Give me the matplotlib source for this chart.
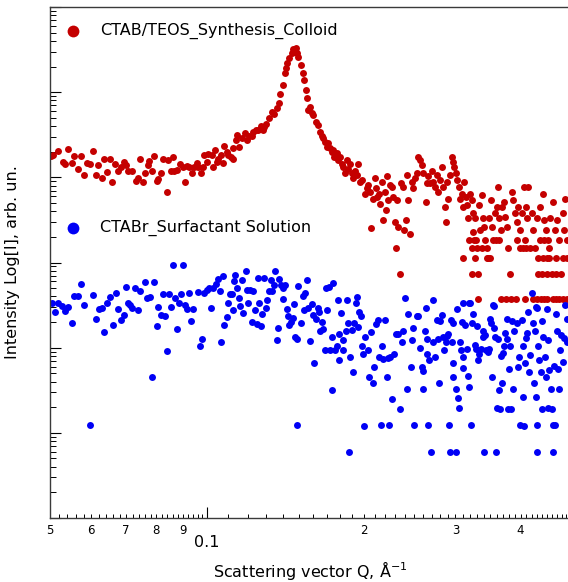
import matplotlib
matplotlib.use('Agg')
import numpy as np
import matplotlib.pyplot as plt
from matplotlib.ticker import FixedLocator, FuncFormatter, LogLocator, NullFormatter

# colloid SAXS curve: Q in 1/A, intensity as log10(I), arbitrary units
red_q = [
    0.0502, 0.0506, 0.0517, 0.0529, 0.0534, 0.0542, 0.0550, 0.0557, 0.0565, 0.0574,
    0.0581, 0.0590, 0.0597, 0.0604, 0.0613, 0.0619, 0.0629, 0.0635, 0.0644, 0.0652,
    0.0659, 0.0667, 0.0676, 0.0684, 0.0694, 0.0700, 0.0707, 0.0718, 0.0731, 0.0739,
    0.0744, 0.0753, 0.0761, 0.0770, 0.0776, 0.0784, 0.0792, 0.0802, 0.0807, 0.0816,
    0.0825, 0.0838, 0.0844, 0.0853, 0.0863, 0.0865, 0.0878, 0.0888, 0.0899, 0.0908,
    0.0915, 0.0926, 0.0935, 0.0945, 0.0956, 0.0963, 0.0973, 0.0982, 0.0988, 0.1000,
    0.1007,
    0.1022, 0.1027, 0.1037, 0.1045, 0.1052, 0.1063, 0.1073, 0.1079, 0.1092, 0.1100,
    0.1111, 0.1121, 0.1124, 0.1138, 0.1144, 0.1154, 0.1167, 0.1184, 0.1193, 0.1207,
    0.1220, 0.1228, 0.1243, 0.1256, 0.1269, 0.1280, 0.1288, 0.1299, 0.1318, 0.1332,
    0.1346, 0.1362, 0.1378, 0.1382, 0.1399, 0.1413, 0.1419, 0.1427, 0.1440, 0.1455,
    0.1466, 0.1481, 0.1492, 0.1498,
    0.1514, 0.1528, 0.1537, 0.1551, 0.1559, 0.1566, 0.1578, 0.1590, 0.1601, 0.1621,
    0.1637, 0.1649, 0.1662, 0.1674, 0.1686, 0.1699, 0.1711, 0.1724, 0.1737, 0.1749,
    0.1755, 0.1776, 0.1788, 0.1801, 0.1815, 0.1828, 0.1842, 0.1856, 0.1869, 0.1883,
    0.1897, 0.1906, 0.1925, 0.1945, 0.1953, 0.1968, 0.1983, 0.2012, 0.2027, 0.2042,
    0.2057, 0.2063, 0.2082, 0.2103, 0.2113, 0.2125, 0.2143, 0.2150, 0.2166, 0.2182,
    0.2198, 0.2208, 0.2221, 0.2230, 0.2247, 0.2264, 0.2280, 0.2298, 0.2308, 0.2315,
    0.2331, 0.2349, 0.2356, 0.2377, 0.2391, 0.2412, 0.2420, 0.2437, 0.2455, 0.2474,
    0.2491, 0.2510, 0.2529, 0.2547, 0.2566, 0.2585, 0.2604, 0.2635, 0.2643, 0.2662,
    0.2681, 0.2702, 0.2721, 0.2742, 0.2763, 0.2782, 0.2803, 0.2824, 0.2844, 0.2866,
    0.2879, 0.2895, 0.2908, 0.2929, 0.2952, 0.2965, 0.2982, 0.3009, 0.3026, 0.3052,
    0.3062, 0.3085, 0.3107, 0.3117, 0.3145, 0.3163, 0.3177, 0.3200, 0.3225, 0.3239,
    0.3248, 0.3272, 0.3287, 0.3306, 0.3335, 0.3345, 0.3370, 0.3385, 0.3405, 0.3420,
    0.3446, 0.3470, 0.3485, 0.3507, 0.3523, 0.3548, 0.3575, 0.3602, 0.3627, 0.3643,
    0.3665, 0.3682, 0.3720, 0.3736, 0.3764, 0.3791, 0.3819, 0.3848, 0.3876, 0.3905,
    0.3934, 0.3962, 0.3991, 0.4022, 0.4040, 0.4064, 0.4100, 0.4123, 0.4141, 0.4172,
    0.4204, 0.4234, 0.4266, 0.4298, 0.4328, 0.4360, 0.4394, 0.4414, 0.4439, 0.4479,
    0.4492, 0.4524, 0.4557, 0.4592, 0.4625, 0.4660, 0.4681, 0.4708, 0.4749, 0.4778,
    0.4821, 0.4849, 0.4871, 0.4907, 0.4920,
    # low-count tail (1..5 counts)
    0.3320, 0.3665, 0.3753, 0.3831, 0.3922, 0.4082, 0.4234, 0.4309, 0.4374, 0.4439,
    0.4504, 0.4625, 0.4681, 0.4737, 0.4821, 0.4907,
    0.3225, 0.3311, 0.4328, 0.4492, 0.4675,
    0.3107, 0.3272, 0.3446, 0.3496, 0.4419, 0.4538, 0.4828,
    0.3225, 0.3369, 0.3985, 0.4102, 0.4540,
    0.3190, 0.3259, 0.3590, 0.3641, 0.3934, 0.4082, 0.4353, 0.4435,
]
red_logi = [
    4.25, 4.26, 4.31, 4.18, 4.16, 4.33, 4.17, 4.25, 4.10, 4.25,
    4.03, 4.17, 4.16, 4.31, 4.03, 4.14, 3.99, 4.21, 4.06, 4.22,
    3.95, 4.16, 4.08, 4.12, 4.18, 4.14, 4.08, 4.08, 3.96, 3.99,
    4.22, 3.95, 4.05, 4.15, 4.19, 4.08, 4.25, 3.96, 3.98, 4.05,
    4.21, 3.83, 4.20, 4.08, 4.24, 4.08, 4.09, 4.16, 4.12, 3.95,
    4.13, 4.12, 4.05, 4.12, 4.17, 4.12, 4.05, 4.12, 4.26, 4.18,
    4.27,
    4.26, 4.12, 4.32, 4.18, 4.22, 4.26, 4.17, 4.37, 4.30, 4.26,
    4.24, 4.21, 4.34, 4.44, 4.50, 4.36, 4.46, 4.52, 4.44, 4.48,
    4.48, 4.53, 4.56, 4.56, 4.60, 4.55, 4.59, 4.63, 4.70, 4.77,
    4.74, 4.81, 4.87, 4.98, 5.08, 5.22, 5.28, 5.34, 5.40, 5.46,
    5.51, 5.52, 5.46, 5.41,
    5.32, 5.22, 5.14, 5.02, 4.93, 4.79, 4.83, 4.75, 4.73, 4.65,
    4.61, 4.53, 4.48, 4.46, 4.42, 4.36, 4.40, 4.34, 4.30, 4.32,
    4.24, 4.28, 4.20, 4.24, 4.16, 4.12, 4.05, 4.20, 4.10, 4.16,
    4.05, 3.99, 4.08, 4.03, 4.16, 3.94, 3.97, 3.81, 3.87, 3.91,
    3.83, 3.41, 3.75, 3.99, 3.87, 3.77, 3.81, 3.69, 3.95, 3.50,
    3.83, 3.62, 4.01, 3.73, 3.91, 3.89, 3.77, 3.48, 3.17, 3.73,
    3.42, 2.87, 3.93, 3.89, 3.38, 3.50, 4.03, 3.73, 3.34, 3.95,
    3.87, 3.99, 4.05, 4.24, 4.20, 4.14, 4.05, 3.71, 3.93, 4.01,
    3.93, 4.08, 3.95, 3.89, 4.03, 3.83, 3.97, 4.12, 3.89, 3.65,
    3.48, 3.95, 3.75, 4.03, 4.24, 4.18, 4.12, 4.05, 3.97, 3.89,
    3.75, 3.81, 3.65, 3.95, 3.77, 3.67, 3.52, 3.81, 3.73, 3.58,
    3.36, 3.52, 3.26, 3.17, 3.67, 3.38, 3.79, 3.52, 3.42, 3.26,
    3.17, 3.05, 3.52, 3.73, 3.42, 3.26, 3.58, 3.65, 3.89, 3.52,
    3.38, 3.65, 3.71, 3.54, 3.42, 3.17, 2.87, 3.83, 3.73, 3.58,
    3.48, 3.65, 3.38, 3.58, 3.17, 3.89, 3.65, 3.52, 3.89, 3.17,
    3.58, 3.38, 3.17, 3.52, 3.05, 3.65, 2.87, 3.81, 3.50, 3.38,
    3.05, 3.26, 3.52, 2.87, 3.71, 3.38, 3.05, 3.50, 3.26, 2.87,
    3.58, 3.38, 3.75, 3.26, 3.05,
    2.57, 2.57, 2.57, 2.57, 2.57, 2.57, 2.57, 2.57, 2.57, 2.57,
    2.57, 2.57, 2.57, 2.57, 2.57, 2.57,
    2.87, 2.87, 2.87, 2.87, 2.87,
    3.05, 3.05, 3.05, 3.05, 3.05, 3.05, 3.05,
    3.17, 3.17, 3.17, 3.17, 3.17,
    3.26, 3.26, 3.26, 3.26, 3.26, 3.26, 3.26, 3.26,
]

# surfactant solution curve
blue_q = [
    0.0504, 0.0511, 0.0519, 0.0527, 0.0534, 0.0542, 0.0550, 0.0557, 0.0565, 0.0574,
    0.0581, 0.0597, 0.0604, 0.0613, 0.0622, 0.0629, 0.0636, 0.0644, 0.0652, 0.0660,
    0.0668, 0.0675, 0.0684, 0.0692, 0.0700, 0.0705, 0.0712, 0.0718, 0.0728, 0.0739,
    0.0744, 0.0761, 0.0769, 0.0778, 0.0784, 0.0792, 0.0802, 0.0807, 0.0816, 0.0825,
    0.0831, 0.0838, 0.0847, 0.0854, 0.0863, 0.0869, 0.0878, 0.0886, 0.0892, 0.0901,
    0.0908, 0.0915, 0.0926, 0.0931, 0.0942, 0.0963, 0.0970, 0.0979, 0.0988, 0.1000,
    0.1011, 0.1019, 0.1029, 0.1042, 0.1049, 0.1060, 0.1065, 0.1073, 0.1081, 0.1092,
    0.1097, 0.1108, 0.1116, 0.1121, 0.1128, 0.1134, 0.1144, 0.1151, 0.1158, 0.1167,
    0.1175, 0.1188, 0.1193, 0.1198, 0.1210, 0.1220, 0.1228, 0.1238, 0.1247, 0.1252,
    0.1261, 0.1269, 0.1278, 0.1290, 0.1299, 0.1307, 0.1316, 0.1326, 0.1336, 0.1346,
    0.1352, 0.1362, 0.1370, 0.1378, 0.1386, 0.1399, 0.1402, 0.1413, 0.1424, 0.1434,
    0.1440, 0.1449, 0.1462, 0.1470, 0.1477, 0.1488, 0.1498, 0.1488,
    0.1516, 0.1528, 0.1537, 0.1544, 0.1555, 0.1566, 0.1578, 0.1590, 0.1601, 0.1608,
    0.1621, 0.1633, 0.1644, 0.1649, 0.1662, 0.1674, 0.1686, 0.1694, 0.1703, 0.1716,
    0.1724, 0.1737, 0.1741, 0.1749, 0.1762, 0.1776, 0.1784, 0.1796, 0.1796, 0.1810,
    0.1823, 0.1828, 0.1848, 0.1861, 0.1869, 0.1877, 0.1883, 0.1897, 0.1906, 0.1917,
    0.1931, 0.1940, 0.1953, 0.1962, 0.1974, 0.1983, 0.1992, 0.2003, 0.2012, 0.2036,
    0.2051, 0.2066, 0.2082, 0.2097, 0.2113, 0.2128, 0.2143, 0.2157, 0.2166, 0.2182,
    0.2198, 0.2215, 0.2225, 0.2240, 0.2247, 0.2264, 0.2288, 0.2308, 0.2331, 0.2349,
    0.2367, 0.2384, 0.2402, 0.2420, 0.2437, 0.2462, 0.2474, 0.2491, 0.2499, 0.2529,
    0.2540, 0.2566, 0.2585, 0.2597, 0.2604, 0.2624, 0.2635, 0.2643, 0.2650, 0.2662,
    0.2673, 0.2697, 0.2714, 0.2721, 0.2742, 0.2763, 0.2775, 0.2791, 0.2803, 0.2824,
    0.2837, 0.2857, 0.2875, 0.2888, 0.2908, 0.2917, 0.2929, 0.2939, 0.2952, 0.2965,
    0.2973, 0.2973, 0.3005, 0.3009, 0.3026, 0.3039, 0.3048, 0.3062, 0.3071, 0.3085,
    0.3099, 0.3107, 0.3131, 0.3154, 0.3168, 0.3186, 0.3200, 0.3215, 0.3233, 0.3248,
    0.3272, 0.3287, 0.3306, 0.3320, 0.3335, 0.3355, 0.3385, 0.3395, 0.3405, 0.3420,
    0.3435, 0.3461, 0.3485, 0.3496, 0.3512, 0.3523, 0.3548, 0.3559, 0.3575, 0.3591,
    0.3602, 0.3627, 0.3643, 0.3654, 0.3665, 0.3682, 0.3698, 0.3720, 0.3736, 0.3764,
    0.3774, 0.3791, 0.3807, 0.3819, 0.3831, 0.3848, 0.3865, 0.3888, 0.3934, 0.3957,
    0.3979, 0.3991, 0.4022, 0.4040, 0.4051, 0.4064, 0.4082, 0.4100, 0.4123, 0.4141,
    0.4154, 0.4172, 0.4204, 0.4223, 0.4247, 0.4266, 0.4285, 0.4298, 0.4309, 0.4309,
    0.4328, 0.4347, 0.4374, 0.4394, 0.4406, 0.4425, 0.4459, 0.4479, 0.4492, 0.4512,
    0.4524, 0.4544, 0.4572, 0.4592, 0.4613, 0.4625, 0.4640, 0.4660, 0.4675, 0.4695,
    0.4716, 0.4749, 0.4763, 0.4785, 0.4821, 0.4849, 0.4877, 0.4907, 0.4920,
    0.3099, 0.3190, 0.3559, 0.4285,
]
blue_logi = [
    2.53, 2.42, 2.52, 2.49, 2.43, 2.48, 2.29, 2.61, 2.61, 2.75,
    2.50, 1.09, 2.62, 2.34, 2.45, 2.47, 2.18, 2.52, 2.59, 2.27,
    2.64, 2.45, 2.32, 2.38, 2.71, 2.53, 2.50, 2.47, 2.70, 2.44,
    2.66, 2.77, 2.58, 2.60, 1.66, 2.77, 2.25, 2.48, 2.38, 2.63,
    2.37, 1.96, 2.63, 2.48, 2.97, 2.58, 2.22, 2.52, 2.63, 2.97,
    2.50, 2.45, 2.64, 2.31, 2.45, 2.65, 2.02, 2.10, 2.64, 2.68,
    2.70, 2.46, 2.70, 2.75, 2.81, 2.66, 2.07, 2.84, 2.27, 2.36,
    2.53, 2.63, 2.63, 2.44, 2.78, 2.85, 2.70, 2.58, 2.49, 2.79,
    2.41, 2.90, 2.68, 2.53, 2.68, 2.30, 2.66, 2.44, 2.28, 2.82,
    2.53, 2.25, 2.40, 2.82, 2.46, 2.56, 2.66, 2.79, 2.66, 2.73,
    2.90, 2.09, 2.23, 2.81, 2.73, 2.70, 2.57, 2.73, 2.45, 2.37,
    2.27, 2.30, 2.35, 2.51, 2.13, 1.09, 2.72, 2.10,
    2.29, 2.61, 2.44, 2.64, 2.79, 2.47, 2.08, 2.51, 2.38, 1.82,
    2.34, 2.47, 2.42, 2.19, 2.30, 2.22, 1.97, 2.70, 2.44, 2.71,
    1.97, 2.12, 1.50, 2.76, 1.97, 2.02, 2.56, 2.16, 1.85, 2.41,
    1.97, 2.09, 2.19, 2.56, 2.29, 0.77, 1.89, 2.21, 1.72, 2.29,
    2.52, 2.59, 2.24, 2.42, 2.37, 2.02, 1.93, 1.08, 2.13, 1.97,
    1.66, 2.18, 1.59, 1.77, 2.28, 2.32, 1.89, 1.09, 2.02, 1.87,
    2.32, 1.66, 1.88, 1.09, 1.89, 1.40, 1.93, 2.16, 2.16, 1.28,
    2.07, 2.20, 2.58, 1.51, 2.40, 1.77, 2.09, 2.23, 1.09, 2.37,
    2.37, 2.00, 1.77, 1.73, 1.51, 2.20, 2.47, 2.10, 1.93, 1.09,
    1.85, 0.77, 2.56, 2.07, 1.89, 2.32, 2.10, 1.58, 2.31, 2.38,
    2.13, 1.97, 2.07, 2.14, 2.16, 1.09, 0.77, 2.32, 2.07, 1.82,
    2.29, 1.66, 0.77, 1.51, 2.45, 1.41, 1.29, 2.07, 1.97, 2.30,
    1.89, 1.76, 2.27, 1.99, 1.67, 1.54, 2.52, 1.09, 2.29, 2.40,
    2.03, 1.99, 2.25, 1.85, 1.92, 1.98, 2.13, 2.19, 0.77, 2.15,
    1.97, 1.95, 1.99, 2.34, 2.29, 1.66, 2.50, 2.23, 2.13, 0.77,
    1.29, 2.10, 1.50, 1.28, 1.90, 1.59, 1.94, 2.02, 2.17, 2.10,
    2.34, 1.28, 1.75, 2.02, 1.28, 2.31, 1.51, 2.19, 2.29, 1.77,
    1.89, 1.09, 2.32, 2.02, 1.42, 1.08, 1.82, 2.11, 2.17, 2.42,
    1.72, 1.91, 2.64, 2.29, 1.59, 2.20, 1.42, 2.47, 1.09, 0.77,
    2.02, 1.86, 1.72, 1.28, 2.31, 2.12, 1.89, 1.65, 2.45, 1.29,
    2.09, 1.74, 1.52, 1.28, 1.09, 0.77, 1.78, 1.09, 2.40, 2.20,
    1.75, 1.52, 1.97, 2.15, 1.83, 2.11, 2.50, 2.07, 2.34,
    2.53, 2.52, 2.49, 2.48,
]

red_name = 'CTAB/TEOS_Synthesis_Colloid'
blue_name = 'CTABr_Surfactant Solution'

RED = '#c40000'
BLUE = '#0000f5'

fig = plt.figure(figsize=(5.68, 5.82), dpi=100)
ax = fig.add_axes([50 / 568., 64 / 582., 521 / 568., 511 / 582.])

ax.plot(red_q, 10 ** np.array(red_logi), 'o', ms=5.0, mec='none', color=RED)
ax.plot(blue_q, 10 ** np.array(blue_logi), 'o', ms=5.0, mec='none', color=BLUE)

ax.set_xscale('log')
ax.set_yscale('log')
ax.set_xlim(0.05, 0.5)
ax.set_ylim(1, 1e6)

#y axis: decades and sub-decades, no numbers
ax.yaxis.set_major_locator(LogLocator(base=10))
ax.yaxis.set_minor_locator(LogLocator(base=10, subs=np.arange(2, 10)))
ax.yaxis.set_major_formatter(NullFormatter())
ax.yaxis.set_minor_formatter(NullFormatter())
ax.tick_params(axis='y', which='major', direction='in', length=8, width=0.8,
               left=True, right=False, labelleft=False)
ax.tick_params(axis='y', which='minor', direction='in', length=4.5, width=0.7,
               left=True, right=False)

#x axis: one big label at 0.1, small mantissa labels elsewhere
fine = np.concatenate([np.arange(0.050, 0.0999, 0.002), np.arange(0.11, 0.5001, 0.01)])


def mantissa(v, pos):
    d = v * 100 if v < 0.0995 else v * 10
    if abs(d - round(d)) < 1e-6:
        return str(int(round(d)))
    return ''


ax.xaxis.set_major_locator(FixedLocator([0.1]))
ax.xaxis.set_major_formatter(FuncFormatter(lambda v, pos: '0.1'))
ax.xaxis.set_minor_locator(FixedLocator(fine))
ax.xaxis.set_minor_formatter(FuncFormatter(mantissa))
ax.tick_params(axis='x', which='major', direction='in', length=8, width=0.8,
               labelsize=11.5, pad=12, top=False)
ax.tick_params(axis='x', which='minor', direction='in', length=3, width=0.7,
               labelsize=8.5, pad=4, top=False)

for side in ['left', 'bottom', 'top']:
    ax.spines[side].set_color('#3a3a3a')
    ax.spines[side].set_linewidth(1.0)
ax.spines['right'].set_visible(False)

ax.set_ylabel('Intensity Log[I], arb. un.', fontsize=11.5, labelpad=18)
ax.set_xlabel('Scattering vector Q, Å$^{-1}$', fontsize=11.5, labelpad=7)

#series keys placed inside the frame
ax.plot([0.044], [0.953], 'o', ms=8.5, mec='none', color=RED, transform=ax.transAxes)
ax.text(0.096, 0.953, red_name, transform=ax.transAxes, va='center', fontsize=11.5)
ax.plot([0.044], [0.5675], 'o', ms=8.5, mec='none', color=BLUE, transform=ax.transAxes)
ax.text(0.096, 0.5675, blue_name, transform=ax.transAxes, va='center', fontsize=11.5)

fig.savefig('out.png', dpi=100)
